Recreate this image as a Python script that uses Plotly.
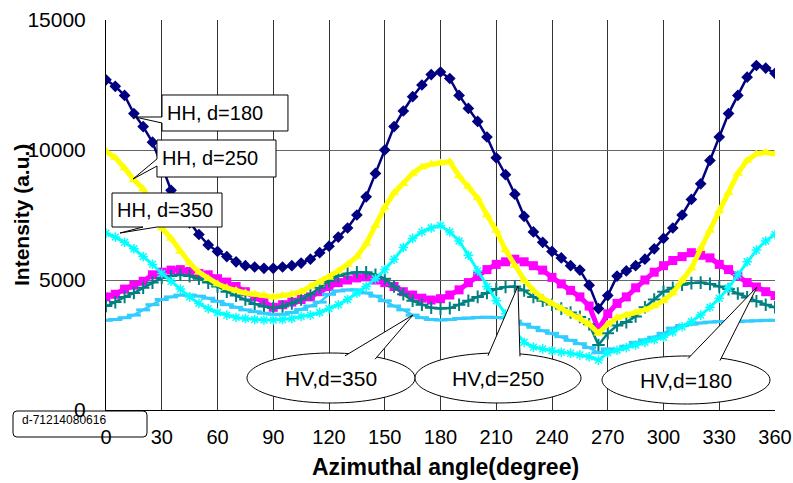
import plotly.graph_objects as go
import numpy as np

# ---------------- data (5-degree steps) ----------------
angles = list(range(0, 361, 5))

hh_180 = [12700, 12450, 12100, 11400, 10900, 10300, 9400, 8450, 7700, 7200,
          6750, 6350, 6100, 5900, 5700, 5550, 5500, 5450, 5450, 5500,
          5550, 5650, 5800, 6050, 6300, 6650, 7000, 7500, 8200, 9100,
          10000, 10900, 11500, 12050, 12500, 12900, 13000, 12750, 12100, 11600,
          11100, 10500, 9700, 9050, 8300, 7450, 6850, 6450, 6100, 5850,
          5550, 5380, 4800, 3900, 4400, 5150, 5350, 5550, 5800, 6200,
          6600, 7000, 7500, 8100, 8700, 9600, 10500, 11400, 12100, 12800,
          13250, 13150, 12950]

hh_250 = [9950, 9700, 9300, 8850, 8500, 7800, 7000, 6600, 6100, 5650,
          5300, 5050, 4850, 4700, 4600, 4500, 4450, 4400, 4350, 4400,
          4450, 4550, 4750, 4900, 5100, 5350, 5600, 5900, 6400, 7100,
          7800, 8350, 8700, 9100, 9350, 9450, 9500, 9550, 9000, 8600,
          8150, 7500, 6900, 6150, 5550, 5000, 4600, 4300, 4100, 3900,
          3700, 3550, 3300, 2950, 3300, 3550, 3650, 3750, 3850, 4000,
          4200, 4500, 5000, 5450, 6200, 6900, 7650, 8350, 9100, 9600,
          9850, 9900, 9850]

hh_350 = [6800, 6650, 6450, 6200, 5900, 5600, 5250, 4950, 4650, 4350,
          4100, 3900, 3750, 3650, 3560, 3520, 3480, 3460, 3460, 3480,
          3520, 3600, 3650, 3750, 3900, 4050, 4250, 4500, 4750, 5050,
          5400, 5800, 6250, 6600, 6850, 7000, 7100, 6850, 6500, 5950,
          5350, 4750, 4200, 3700, 3050, 2600, 2420, 2350, 2280, 2220,
          2180, 2120, 2050, 1920, 2200, 2300, 2400, 2500, 2600, 2700,
          2800, 3000, 3200, 3400, 3650, 3950, 4300, 4700, 5200, 5700,
          6150, 6500, 6750]

hv_180 = [4350, 4450, 4650, 4800, 4950, 5200, 5300, 5380, 5400, 5330,
          5250, 5200, 5050, 4920, 4750, 4550, 4350, 4150, 3950, 4050,
          4150, 4250, 4350, 4550, 4750, 4900, 5000, 5080, 5120, 5000,
          4900, 4750, 4550, 4420, 4300, 4230, 4280, 4420, 4620, 4900,
          5150, 5400, 5600, 5700, 5800, 5700, 5550, 5380, 5100, 4850,
          4600, 4350, 4000, 3100, 3700, 4100, 4350, 4700, 5000, 5300,
          5550, 5750, 5900, 6050, 5950, 5850, 5600, 5400, 5150, 4900,
          4730, 4550, 4400]

hv_250 = [4000, 4150, 4350, 4500, 4700, 4900, 5080, 5150, 5200, 5150,
          5050, 4900, 4750, 4550, 4400, 4250, 4080, 3980, 3920, 3980,
          4100, 4250, 4450, 4700, 4950, 5150, 5250, 5300, 5300, 5200,
          5050, 4750, 4450, 4200, 4050, 3930, 3900, 3920, 4050, 4200,
          4350, 4500, 4650, 4730, 4750, 4600, 4350, 4200, 4050, 3900,
          3750, 3580, 3300, 2500, 2950, 3250, 3380, 3600, 3950, 4250,
          4550, 4700, 4820, 4880, 4900, 4850, 4750, 4650, 4480, 4330,
          4180, 4050, 3950]

hv_350 = [3450, 3480, 3550, 3650, 3850, 4050, 4250, 4350, 4420, 4420,
          4380, 4300, 4180, 4050, 3950, 3850, 3780, 3720, 3680, 3680,
          3750, 3870, 4000, 4150, 4450, 4580, 4620, 4620, 4500, 4380,
          4200, 4000, 3850, 3650, 3550, 3480, 3460, 3480, 3520, 3540,
          3560, 3570, 3560, 3540, 3420, 3300, 3180, 3050, 2950, 2820,
          2680, 2550, 2400, 2200, 2350, 2320, 2450, 2600, 2700, 2800,
          2950, 3150, 3250, 3300, 3350, 3380, 3400, 3400, 3400, 3420,
          3430, 3450, 3450]

x_ticks = list(range(0, 361, 30))
y_ticks = [0, 5000, 10000, 15000]

# ---------------- figure ----------------
W, H = 793, 483
PX0, PX1, PY0, PY1 = 106, 775, 410, 20  # plot area in window pixels


def px(x):
    return (x - PX0) / (PX1 - PX0)


def py(y):
    return (PY0 - y) / (PY0 - PY1)


fig = go.Figure()

series = [
    (hv_180, "HV, d=180", "#FF00FF", dict(symbol="square", size=9, color="#FF00FF"), 5),
    (hv_250, "HV, d=250", "#008080", dict(symbol="cross-thin-open", size=9,
                                           line=dict(color="#008080", width=2)), 2.5),
    (hv_350, "HV, d=350", "#33CCFF", dict(symbol="line-ew-open", size=10,
                                           line=dict(color="#33CCFF", width=3)), 2.5),
    (hh_180, "HH, d=180", "#000080", dict(symbol="diamond", size=9, color="#000080"), 2.5),
    (hh_250, "HH, d=250", "#FFFF00", dict(symbol="triangle-up", size=9, color="#FFFF00"), 5),
    (hh_350, "HH, d=350", "#00FFFF", dict(symbol="asterisk-open", size=8,
                                           line=dict(color="#00FFFF", width=1.5)), 3),
]
for vals, name, col, mk, lw in series:
    fig.add_trace(go.Scatter(x=angles, y=vals, name=name, mode="lines+markers",
                             line=dict(color=col, width=lw), marker=mk,
                             showlegend=False))

shapes = []
annotations = []
LABEL_FONT = dict(family="Liberation Sans, Arial", size=20, color="black")


def rect_callout(x0, y0, x1, y1, b1, b2, tip, edge, text):
    if edge == "left":
        pts = [(x0, y0), (x1, y0), (x1, y1), (x0, y1), (x0, b2), tip, (x0, b1)]
    else:  # bottom edge
        pts = [(x0, y0), (x1, y0), (x1, y1), (b2, y1), tip, (b1, y1), (x0, y1)]
    path = "M " + " L ".join(f"{px(a):.4f},{py(b):.4f}" for a, b in pts) + " Z"
    shapes.append(dict(type="path", xref="paper", yref="paper", path=path,
                       fillcolor="white", line=dict(color="black", width=1), layer="above"))
    annotations.append(dict(x=px(x0 + 3), y=py((y0 + y1) / 2), xref="paper", yref="paper",
                            text=text, showarrow=False, xanchor="left", yanchor="middle",
                            font=LABEL_FONT))


rect_callout(162, 95, 288, 131, 117, 123, (135, 117), "left", "HH, d=180")
rect_callout(157, 140, 276, 177, 159, 166, (133, 179), "left", "HH, d=250")
rect_callout(112, 193, 222, 227, 143, 157, (120, 233), "bottom", "HH, d=350")


def ellipse_callout(cx, cy, rx, ry, b1x, b2x, tip, text):
    t = np.linspace(0, 2 * np.pi, 90)
    ex = cx + rx * np.cos(t)
    ey = cy + ry * np.sin(t)
    path = "M " + " L ".join(f"{px(a):.4f},{py(b):.4f}" for a, b in zip(ex, ey)) + " Z"
    shapes.append(dict(type="path", xref="paper", yref="paper", path=path,
                       fillcolor="white", line=dict(color="black", width=1), layer="above"))

    def top_y(xx):
        return cy - ry * np.sqrt(max(0.0, 1 - ((xx - cx) / rx) ** 2)) + 2.5

    p1 = (b1x, top_y(b1x))
    p2 = (b2x, top_y(b2x))
    wpath = (f"M {px(p1[0]):.4f},{py(p1[1]):.4f} L {px(tip[0]):.4f},{py(tip[1]):.4f} "
             f"L {px(p2[0]):.4f},{py(p2[1]):.4f}")
    shapes.append(dict(type="path", xref="paper", yref="paper", path=wpath,
                       fillcolor="white", line=dict(color="black", width=1), layer="above"))
    annotations.append(dict(x=px(cx), y=py(cy), xref="paper", yref="paper", text=text,
                            showarrow=False, xanchor="center", yanchor="middle",
                            font=dict(family="Liberation Sans, Arial", size=21, color="black")))


ellipse_callout(331, 378, 84, 25, 345, 375, (413, 315), "HV,d=350")
ellipse_callout(498, 378, 83, 25, 488, 520, (518, 286), "HV,d=250")
ellipse_callout(686, 380, 84, 24, 688, 720, (757, 287), "HV,d=180")

# small id box at lower left
x0, y0, x1, y1, r = 13, 411, 147, 437, 4
rp = (f"M {px(x0 + r)},{py(y0)} L {px(x1 - r)},{py(y0)} Q {px(x1)},{py(y0)} {px(x1)},{py(y0 + r)} "
      f"L {px(x1)},{py(y1 - r)} Q {px(x1)},{py(y1)} {px(x1 - r)},{py(y1)} "
      f"L {px(x0 + r)},{py(y1)} Q {px(x0)},{py(y1)} {px(x0)},{py(y1 - r)} "
      f"L {px(x0)},{py(y0 + r)} Q {px(x0)},{py(y0)} {px(x0 + r)},{py(y0)} Z")
shapes.append(dict(type="path", xref="paper", yref="paper", path=rp,
                   line=dict(color="black", width=1), layer="above"))
annotations.append(dict(x=px(20), y=py(420), xref="paper", yref="paper", text="d-71214080616",
                        showarrow=False, xanchor="left", yanchor="middle",
                        font=dict(family="Liberation Sans Narrow, Liberation Sans, Arial",
                                  size=12, color="black")))

# axis titles
annotations.append(dict(x=px(445), y=py(467), xref="paper", yref="paper",
                        text="<b>Azimuthal angle(degree)</b>", showarrow=False,
                        xanchor="center", yanchor="middle",
                        font=dict(family="Liberation Sans Narrow, Liberation Sans, Arial",
                                  size=23, color="black")))
annotations.append(dict(x=px(21), y=py(215), xref="paper", yref="paper",
                        text="<b>Intensity (a.u.)</b>", showarrow=False, textangle=-90,
                        xanchor="center", yanchor="middle",
                        font=dict(family="Liberation Sans, Arial", size=21, color="black")))
# partially visible label at the very bottom (cropped by the window)
annotations.append(dict(x=px(65), y=py(489), xref="paper", yref="paper", text="250",
                        showarrow=False, xanchor="center", yanchor="middle",
                        font=dict(family="Liberation Sans, Arial", size=19, color="black")))

fig.update_layout(
    width=W, height=H,
    margin=dict(l=PX0, r=W - PX1, t=PY1, b=H - PY0, autoexpand=False),
    paper_bgcolor="white", plot_bgcolor="white",
    shapes=shapes, annotations=annotations,
    xaxis=dict(range=[0, 360], tickvals=x_ticks, ticktext=[str(v) for v in x_ticks],
               showgrid=True, gridcolor="#333333", gridwidth=1,
               showline=True, linecolor="black", linewidth=1, mirror=False,
               zeroline=False, ticks="", ticklabelstandoff=9,
               tickfont=dict(family="Liberation Sans Narrow, Liberation Sans, Arial",
                             size=20, color="black")),
    yaxis=dict(range=[0, 15000], tickvals=y_ticks, ticktext=[str(v) for v in y_ticks],
               showgrid=True, gridcolor="#666666", gridwidth=1,
               showline=True, linecolor="black", linewidth=1,
               zeroline=False, ticks="", ticklabelstandoff=15,
               tickfont=dict(family="Liberation Sans, Arial", size=21, color="black")),
)

fig.write_html(
    "out.html",
    config={"displayModeBar": False},
    post_script="document.body.style.margin='0';"
                "document.documentElement.style.overflow='hidden';"
                "document.body.style.overflow='hidden';",
)
